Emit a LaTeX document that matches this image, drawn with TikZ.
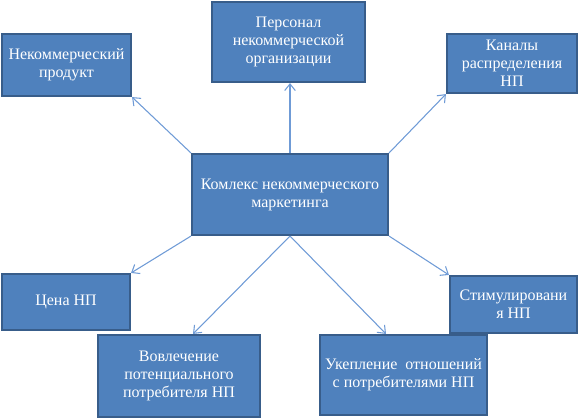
\documentclass[tikz,border=0pt]{standalone}
\usepackage{fontspec}
\setmainfont{Liberation Serif}
\newfontfamily\boxfont{Liberation Serif}
\usetikzlibrary{arrows.meta,calc}
\definecolor{boxfill}{HTML}{4F81BD}
\definecolor{boxline}{HTML}{385D8A}
\definecolor{arrowc}{HTML}{6F9BD6}
\begin{document}
\begin{tikzpicture}[x=0.75pt,y=-0.75pt,
  box/.style={draw=boxline,line width=1.6pt,fill=boxfill,text=white,align=center,
    font=\boxfont\fontsize{12pt}{13.5pt}\selectfont,inner sep=2pt,anchor=center},
  conn/.style={draw=arrowc,line width=0.8pt,-{Straight Barb[length=5pt,width=8pt]}}]
\useasboundingbox (0,0) rectangle (579,419);
\node[box,minimum width=129*0.75pt,minimum height=62*0.75pt] (A) at (66.5,65) {Некоммерческий\\продукт};
\node[box,minimum width=153*0.75pt,minimum height=80*0.75pt] (B) at (288.5,42) {Персонал\\некоммерческой\\организации};
\node[box,minimum width=130*0.75pt,minimum height=59*0.75pt] (C) at (512,63.5) {Каналы\\распределения\\НП};
\node[box,minimum width=196*0.75pt,minimum height=81*0.75pt] (D) at (290,194.5) {Комлекс некоммерческого\\маркетинга};
\node[box,minimum width=128*0.75pt,minimum height=56*0.75pt] (E) at (66,302) {Цена НП};
\node[box,minimum width=162*0.75pt,minimum height=82*0.75pt] (F) at (179,376) {Вовлечение\\потенциального\\потребителя НП};
\node[box,minimum width=167*0.75pt,minimum height=80*0.75pt] (G) at (403.5,375) {Укепление\ \ отношений\\с потребителями НП};
\node[box,minimum width=127*0.75pt,minimum height=57*0.75pt] (H) at (513.5,304.5) {Стимулировани\\я НП};
\coordinate (Fin) at ($(F.north)+(14,0)$);
\coordinate (Gin) at ($(G.north)+(-17.5,0)$);
\draw[conn] (D.north west) -- (A.south east);
\draw[conn] (D.north) -- (D.north |- B.south);
\draw[conn] (D.north east) -- (C.south west);
\draw[conn] (D.south west) -- (E.north east);
\draw[conn] (D.south) -- (Fin);
\draw[conn] (D.south) -- (Gin);
\draw[conn] (D.south east) -- (H.north west);
\end{tikzpicture}
\end{document}
